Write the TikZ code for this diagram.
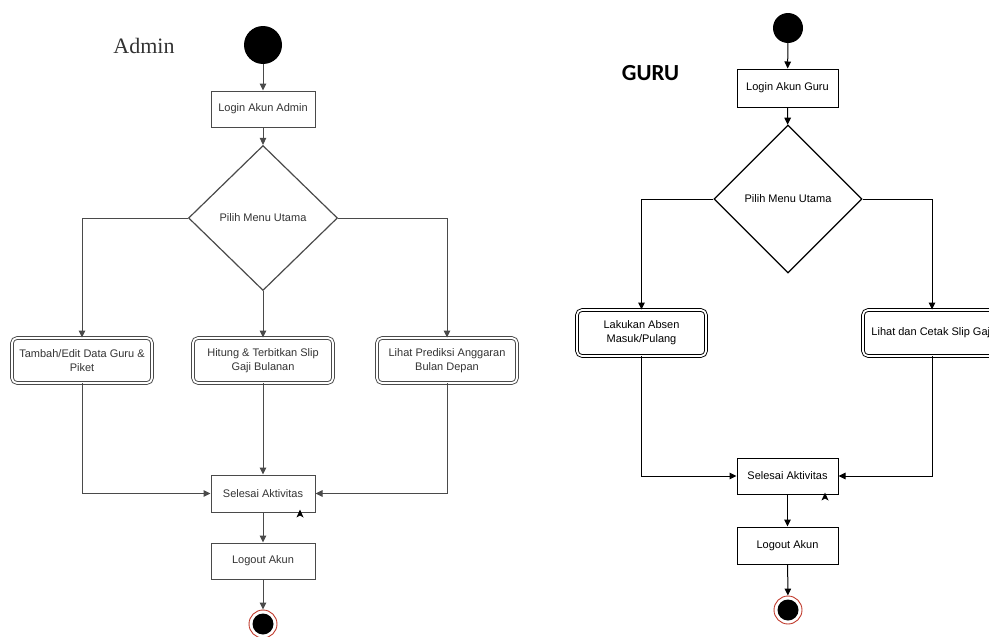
\documentclass[tikz,border=0pt]{standalone}
\usepackage{fontspec}
\setmainfont{Liberation Sans}
\newfontfamily\serifT{Liberation Serif}
\newfontfamily\calib{Carlito}
\usetikzlibrary{shapes.geometric,arrows.meta}
\definecolor{agray}{HTML}{4A4A4A}
\definecolor{atext}{HTML}{333333}
\definecolor{ered}{HTML}{C0392B}
\tikzset{
  flow/.style={-{Triangle[length=7pt,width=6.5pt]}, line width=1pt},
  abox/.style={draw, rectangle, line width=1pt, inner sep=0pt, font=\fontsize{11}{14}\selectfont, align=center},
  dbox/.style={draw, rectangle, rounded corners=5pt, double, double distance=1.8pt, line width=0.9pt, inner sep=0pt, font=\fontsize{11}{14}\selectfont, align=center},
  decis/.style={draw, diamond, line width=1.2pt, inner sep=0pt, font=\fontsize{11}{14}\selectfont},
  startnode/.style={circle, fill=black, inner sep=0pt},
  endring/.style={circle, draw=ered, fill=white, line width=0.9pt, inner sep=0pt, minimum size=28pt},
}
\begin{document}
\begin{tikzpicture}[x=1pt,y=-1pt]
\useasboundingbox (0,0) rectangle (989,637);
% ---------- Admin ----------
\node[font=\serifT\fontsize{22}{24}\selectfont, text=atext] (atitle) at (144,46) {Admin};
\begin{scope}[draw=agray, text=atext, color=agray]
\node[startnode, fill=black, minimum size=38pt] (astart) at (263,45) {};
\node[abox, minimum width=104pt, minimum height=36pt, text=atext] (alogin) at (263,109) {Login Akun Admin};
\node[decis, minimum width=149pt, minimum height=145pt, text=atext] (adec) at (263,218) {Pilih Menu Utama};
\node[dbox, minimum width=140pt, minimum height=45pt, text=atext] (a1) at (82,360.5) {Tambah/Edit Data Guru \&\\Piket};
\node[dbox, minimum width=140pt, minimum height=45pt, text=atext] (a2) at (263,360.5) {Hitung \& Terbitkan Slip\\Gaji Bulanan};
\node[dbox, minimum width=140pt, minimum height=45pt, text=atext] (a3) at (447,360.5) {Lihat Prediksi Anggaran\\Bulan Depan};
\node[abox, minimum width=104pt, minimum height=37pt, text=atext] (asel) at (263,493.5) {Selesai Aktivitas};
\node[abox, minimum width=104pt, minimum height=36pt, text=atext] (alog) at (263,561) {Logout Akun};
\node[endring] (aend) at (263,624) {};
\node[circle, fill=black, inner sep=0pt, minimum size=21pt] (aendin) at (aend.center) {};
\draw[flow] (astart) -- (alogin);
\draw[flow] (alogin) -- (adec);
\draw[flow] (adec.west) -| (a1.north);
\draw[flow] (adec.south) -- (a2.north);
\draw[flow] (adec.east) -| (a3.north);
\draw[flow] (a1.south) |- (asel.west);
\draw[flow] (a2.south) -- (asel.north);
\draw[flow] (a3.south) |- (asel.east);
\draw[flow] (asel) -- (alog);
\draw[flow] (alog) -- (aend);
\fill[black] (300,509.5) -- (303.5,517.5) -- (300,515.5) -- (296.5,517.5) -- cycle;
\end{scope}
% ---------- Guru ----------
\node[font=\calib\bfseries\fontsize{23}{25}\selectfont] (gtitle) at (650.5,73) {GURU};
\node[startnode, minimum size=30pt] (gstart) at (788,28) {};
\node[abox, minimum width=101pt, minimum height=38pt] (glogin) at (787.5,88) {Login Akun Guru};
\node[decis, minimum width=148pt, minimum height=148pt] (gdec) at (788,199) {Pilih Menu Utama};
\node[dbox, minimum width=129pt, minimum height=46pt] (g1) at (641.5,333) {Lakukan Absen\\Masuk/Pulang};
\node[dbox, minimum width=138pt, minimum height=46pt] (g2) at (932,333) {Lihat dan Cetak Slip Gaji};
\node[abox, minimum width=101pt, minimum height=36pt] (gsel) at (787.5,476) {Selesai Aktivitas};
\node[abox, minimum width=101pt, minimum height=37pt] (glog) at (787.5,545.5) {Logout Akun};
\node[endring] (gend) at (788,610) {};
\node[circle, fill=black, inner sep=0pt, minimum size=21pt] (gendin) at (gend.center) {};
\draw[flow] (gstart) -- (glogin);
\draw[flow] (glogin) -- (gdec);
\draw[flow] (gdec.west) -| (g1.north);
\draw[flow] (gdec.east) -| (g2.north);
\draw[flow] (g1.south) |- (gsel.west);
\draw[flow] (g2.south) |- (gsel.east);
\draw[flow] (gsel) -- (glog);
\draw[flow] (glog) -- (gend);
\fill[black] (825,492.5) -- (828.5,500.5) -- (825,498.5) -- (821.5,500.5) -- cycle;
\end{tikzpicture}
\end{document}
